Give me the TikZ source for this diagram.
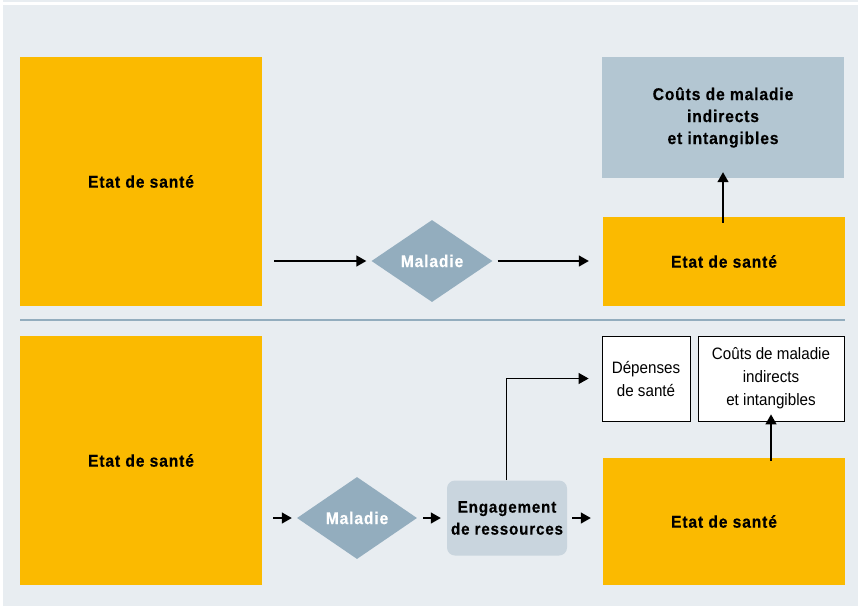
\documentclass[tikz,border=0pt]{standalone}
\usepackage{fontspec}
\setmainfont{Liberation Sans}[FakeStretch=0.92, BoldFeatures={LetterSpace=5, FakeBold=0.4}]
\usetikzlibrary{shapes.geometric, arrows.meta}

\definecolor{fondbleu}{HTML}{E8EDF1}
\definecolor{jaune}{HTML}{FBBA00}
\definecolor{gris}{HTML}{93ADBE}
\definecolor{grisclair}{HTML}{B3C6D2}
\definecolor{grispale}{HTML}{C9D5DE}

\tikzset{
	etat/.style={fill=jaune, inner sep=0pt, font=\bfseries\fontsize{17}{20}\selectfont},
	cout/.style={fill=grisclair, inner sep=0pt, align=center, font=\bfseries\fontsize{17}{22}\selectfont},
	blanc/.style={fill=white, draw=black, line width=0.8pt, inner sep=0pt, align=center, font=\fontsize{16.5}{23}\selectfont},
	maladie/.style={diamond, fill=gris, text=white, inner sep=0pt, font=\bfseries\fontsize{17}{20}\selectfont},
	fleche/.style={line width=1.4pt, -{Triangle[length=10pt,width=11pt]}}
}

\begin{document}
\begin{tikzpicture}[x=1pt, y=-1pt]
	\useasboundingbox (0,0) rectangle (858,606);
	\fill[fondbleu] (3,5) rectangle (858,606);
	\fill[fondbleu] (3,0) rectangle (858,1.5);

	%% partie haute
	\node[etat, minimum width=242pt, minimum height=249pt] (e1) at (141,181.5) {Etat de sant\'e};
	\node[maladie, minimum width=121pt, minimum height=82pt] (m1) at (432,261) {Maladie};
	\node[etat, minimum width=242pt, minimum height=89pt] (e2) at (724,261.5) {Etat de sant\'e};
	\node[cout, minimum width=242pt, minimum height=121pt] (c1) at (723,117.5) {Co\^uts de maladie\\indirects\\et intangibles};

	\coordinate (a1) at (274,261);
	\draw[fleche] (a1) -- ([xshift=-5pt]m1.west);
	\draw[fleche] ([xshift=5pt]m1.east) -- ([xshift=-14pt]e2.west |- m1.east);
	\draw[fleche] ([yshift=-6pt]e2.north -| c1.south) -- ([yshift=6pt]c1.south);

	%% separation
	\draw[gris, line width=1.5pt] (20,320) -- (845,320);

	%% partie basse
	\node[etat, minimum width=242pt, minimum height=249pt] (e3) at (141,460.5) {Etat de sant\'e};
	\node[maladie, minimum width=120pt, minimum height=82pt] (m2) at (357,518) {Maladie};
	\node[fill=grispale, rounded corners=8pt, minimum width=120pt, minimum height=75pt, inner sep=0pt, align=center,
		font=\bfseries\fontsize{16.5}{22}\selectfont] (r) at (507,518) {Engagement\\de ressources};
	\node[etat, minimum width=242pt, minimum height=127pt] (e4) at (724,521.5) {Etat de sant\'e};
	\node[blanc, minimum width=88pt, minimum height=85pt] (d) at (646,378.5) {D\'epenses\\de sant\'e};
	\node[blanc, minimum width=146pt, minimum height=85pt] (c2) at (771,378.5) {Co\^uts de maladie\\indirects\\et intangibles};

	\coordinate (a2) at (273,518);
	\draw[fleche] (a2) -- ([xshift=-5pt]m2.west);
	\draw[fleche] ([xshift=6pt]m2.east) -- ([xshift=-6pt]r.west);
	\draw[fleche] ([xshift=5pt]r.east) -- ([xshift=-12pt]e4.west |- r.east);
	\draw[fleche, line width=1pt] ([xshift=-1pt]r.north) |- ([xshift=-13pt]d.west);
	\draw[fleche] ([yshift=-3pt]e4.north -| c2.south) -- ([yshift=7pt]c2.south);
\end{tikzpicture}
\end{document}
